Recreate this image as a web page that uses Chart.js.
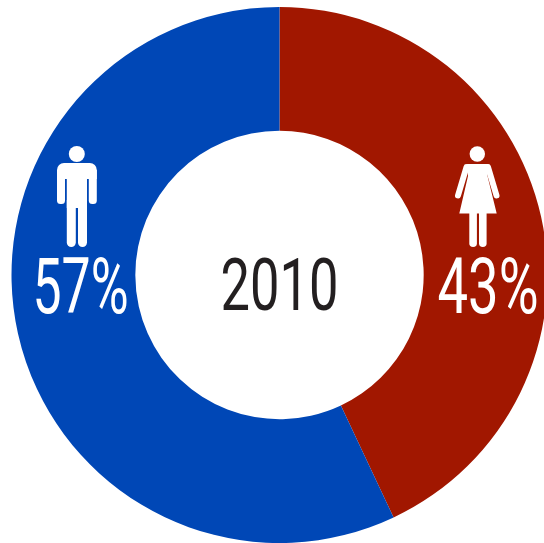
<!DOCTYPE html>
<html>
<head>
<meta charset="utf-8">
<script src="https://cdn.jsdelivr.net/npm/chart.js@4"></script>
<style>
html, body { margin: 0; padding: 0; background: #fff; overflow: hidden; width: 544px; height: 543px; }
#wrap { position: absolute; left: 0; top: 0; width: 559px; height: 550px; }
</style>
</head>
<body>
<div id="wrap"><canvas id="myChart"></canvas></div>
<script>
//---------------- data ----------------
var categorias = ['Mujeres', 'Hombres'];
var valores = [43, 57];
var colores = ['#a11700', '#0047b6'];
var titulo = '2010';

//---------------- helpers ----------------
// draws text squeezed to a given width, the original font is a condensed one
function texto_ajustado(ctx, txt, x, base, ancho, size, color) {
    ctx.save();
    ctx.font = size + 'px Roboto';
    ctx.fillStyle = color;
    ctx.textBaseline = 'alphabetic';
    ctx.textAlign = 'left';
    var natural = ctx.measureText(txt).width;
    ctx.translate(x, base);
    ctx.scale(ancho / natural, 1);
    ctx.fillText(txt, 0, 0);
    ctx.restore();
}

function barra(ctx, x, y, w, h, r) {
    ctx.beginPath();
    ctx.roundRect(x, y, w, h, r);
    ctx.fill();
}

function hombre(ctx) {
    ctx.fillStyle = '#fff';
    ctx.beginPath();
    ctx.arc(76.8, 154, 8, 0, Math.PI * 2);
    ctx.fill();
    barra(ctx, 57, 163, 39.8, 16, [7, 7, 0, 0]);
    barra(ctx, 57, 170, 8, 34, [0, 0, 3.5, 3.5]);
    barra(ctx, 88.8, 170, 8, 34, [0, 0, 3.5, 3.5]);
    ctx.fillRect(66.8, 170, 20.2, 38);
    barra(ctx, 66.8, 200, 9, 47, [0, 0, 4.5, 4.5]);
    barra(ctx, 78, 200, 9, 47, [0, 0, 4.5, 4.5]);
}

function mujer(ctx) {
    ctx.fillStyle = '#fff';
    ctx.beginPath();
    ctx.arc(477.3, 154, 7.7, 0, Math.PI * 2);
    ctx.fill();
    // arms
    ctx.strokeStyle = '#fff';
    ctx.lineWidth = 6;
    ctx.lineCap = 'round';
    ctx.beginPath();
    ctx.moveTo(466.5, 167);
    ctx.lineTo(458, 195.5);
    ctx.moveTo(488, 167);
    ctx.lineTo(496.5, 195.5);
    ctx.stroke();
    // dress
    ctx.beginPath();
    ctx.moveTo(467, 164);
    ctx.lineTo(488, 164);
    ctx.lineTo(487.5, 176);
    ctx.lineTo(496.7, 213.5);
    ctx.lineTo(459.3, 213.5);
    ctx.lineTo(468, 176);
    ctx.closePath();
    ctx.fill();
    barra(ctx, 469.3, 208, 7.6, 39, [0, 0, 3.8, 3.8]);
    barra(ctx, 479, 208, 7.6, 39, [0, 0, 3.8, 3.8]);
}

//---------------- chart ----------------
var rotulos = {
    id: 'rotulos',
    afterDraw: function (chart) {
        var ctx = chart.ctx;
        ctx.save();
        hombre(ctx);
        mujer(ctx);
        texto_ajustado(ctx, valores[1] + '%', 32.5, 313, 96, 77, '#fff');
        texto_ajustado(ctx, valores[0] + '%', 437.5, 313, 101, 77, '#fff');
        texto_ajustado(ctx, titulo, 220.5, 310, 118, 73, '#231f20');
        ctx.restore();
    }
};

var myChart = new Chart(document.getElementById('myChart').getContext('2d'), {
    type: 'doughnut',
    data: {
        labels: categorias,
        datasets: [{
            data: valores,
            backgroundColor: colores,
            borderWidth: 0
        }]
    },
    options: {
        responsive: true,
        maintainAspectRatio: false,
        animation: false,
        cutout: '53.8%',
        layout: { padding: 7 },
        plugins: {
            legend: { display: false },
            tooltip: { enabled: false }
        }
    },
    plugins: [rotulos]
});
</script>
</body>
</html>
